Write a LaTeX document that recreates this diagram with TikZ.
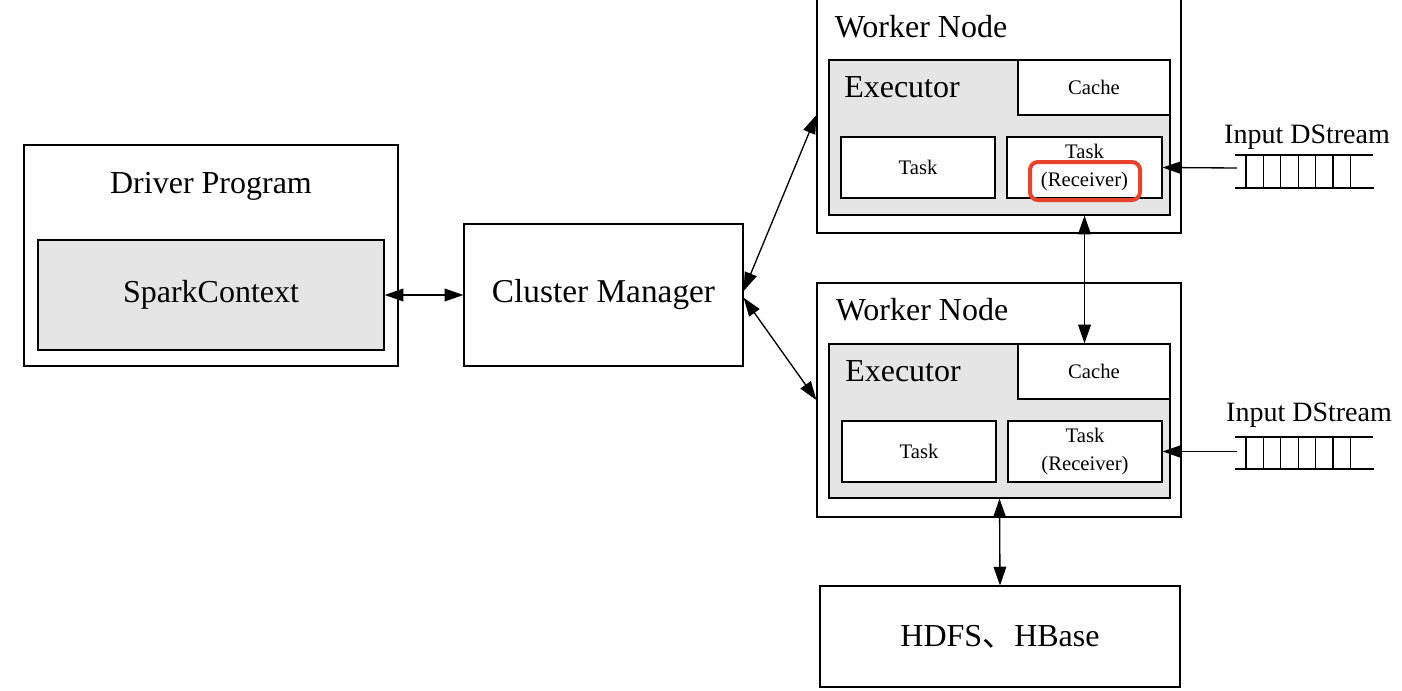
\documentclass[tikz,border=0pt]{standalone}
\usepackage{fontspec}
\setmainfont{Liberation Serif}
\newfontfamily\cjk{Noto Sans CJK SC}
\usepackage{xcolor}
\usepackage{tikz}
\usetikzlibrary{arrows.meta}

\definecolor{exgray}{HTML}{E5E5E5}
\definecolor{hlred}{HTML}{E8432A}

\begin{document}
\begin{tikzpicture}[x=0.75pt, y=-0.75pt,
		>={Triangle[length=14pt, width=9.5pt]},
		box/.style={draw, line width=0.9pt, inner sep=0pt},
		grey/.style={box, fill=exgray},
		white/.style={box, fill=white},
		big/.style={font=\fontsize{24}{28}\selectfont},
		small/.style={font=\fontsize{15.5}{21}\selectfont, align=center},
		link/.style={line width=1pt, <->},
		feed/.style={line width=1pt, ->}]
		\clip (0,0) rectangle (1402,690);

		% driver side
		\node [box, minimum width=280.5pt, minimum height=165.75pt] (driver) at (211,255.5) {};
		\node [big] (drivertitle) at (211,186) {Driver Program};
		\node [grey, big, minimum width=259.5pt, minimum height=82.5pt] (spark) at (211,295) {SparkContext};

		\node [box, font=\fontsize{25}{30}\selectfont, minimum width=209.25pt, minimum height=106.5pt] (cm) at (603.5,295) {Cluster Manager};

		% first worker
		\node [box, minimum width=273pt, minimum height=177pt] (w1) at (999,115) {};
		\node [big] (w1title) at (921,27) {Worker Node};
		\node [grey, minimum width=255.75pt, minimum height=116.25pt] (ex1) at (999.5,137.5) {};
		\node [big] (ex1title) at (902,87) {Executor};
		\node [white, small, minimum width=114pt, minimum height=41.25pt] (cache1) at (1094,87.5) {Cache};
		\node [white, small, minimum width=115.5pt, minimum height=45.75pt] (t1a) at (918,167.5) {Task};
		\node [white, small, minimum width=116.25pt, minimum height=45.75pt] (t1b) at (1084.5,167.5) {Task\\(Receiver)};
		\node [draw=hlred, line width=3pt, rounded corners=6pt, minimum width=82.5pt, minimum height=28.5pt] (hlbox) at (1085,181) {};

		% second worker
		\node [box, minimum width=273pt, minimum height=175.5pt] (w2) at (999,400) {};
		\node [big] (w2title) at (922,310) {Worker Node};
		\node [grey, minimum width=255.75pt, minimum height=115.5pt] (ex2) at (999.5,421) {};
		\node [big] (ex2title) at (903,371) {Executor};
		\node [white, small, minimum width=114pt, minimum height=41.25pt] (cache2) at (1094,371.5) {Cache};
		\node [white, small, minimum width=115.5pt, minimum height=45.75pt] (t2a) at (919,451.5) {Task};
		\node [white, small, minimum width=115.5pt, minimum height=45.75pt] (t2b) at (1085,451.5) {Task\\(Receiver)};

		\node [box, big, minimum width=270pt, minimum height=75.75pt] (hdfs) at (1000,636.5) {HDFS{\cjk 、}HBase};

		% input streams
		\node [font=\fontsize{21}{25}\selectfont] (in1) at (1307,137) {Input DStream};
		\draw [line width=0.8pt] (1235,155) -- (1373,155);
		\draw [line width=0.8pt] (1235,188) -- (1374,188);
		\foreach \i in {0,...,6}
			\draw [line width=0.8pt] (1246+17.4*\i,155) -- (1246+17.4*\i,188);
		\coordinate (q1) at (1237,168);

		\node [font=\fontsize{21}{25}\selectfont] (in2) at (1309,415) {Input DStream};
		\draw [line width=0.8pt] (1235,437) -- (1373,437);
		\draw [line width=0.8pt] (1235,469) -- (1374,469);
		\foreach \i in {0,...,6}
			\draw [line width=0.8pt] (1246+17.4*\i,437) -- (1246+17.4*\i,469);
		\coordinate (q2) at (1237,451.5);

		% arrows
		\draw [link] (spark.east) -- (cm.west);
		\draw [link] ([yshift=3pt]cm.east) -- (w1.west);
		\draw [link] ([yshift=-2pt]cm.east) -- (w2.west);
		\draw [link] (t1b.south |- ex1.south) -- (t1b.south |- cache2.north);
		\draw [link] (ex2.south) -- (hdfs.north);
		\draw [feed] (q1) -- (t1b.east);
		\draw [feed] (q2) -- (t2b.east);

	\end{tikzpicture}
\end{document}
